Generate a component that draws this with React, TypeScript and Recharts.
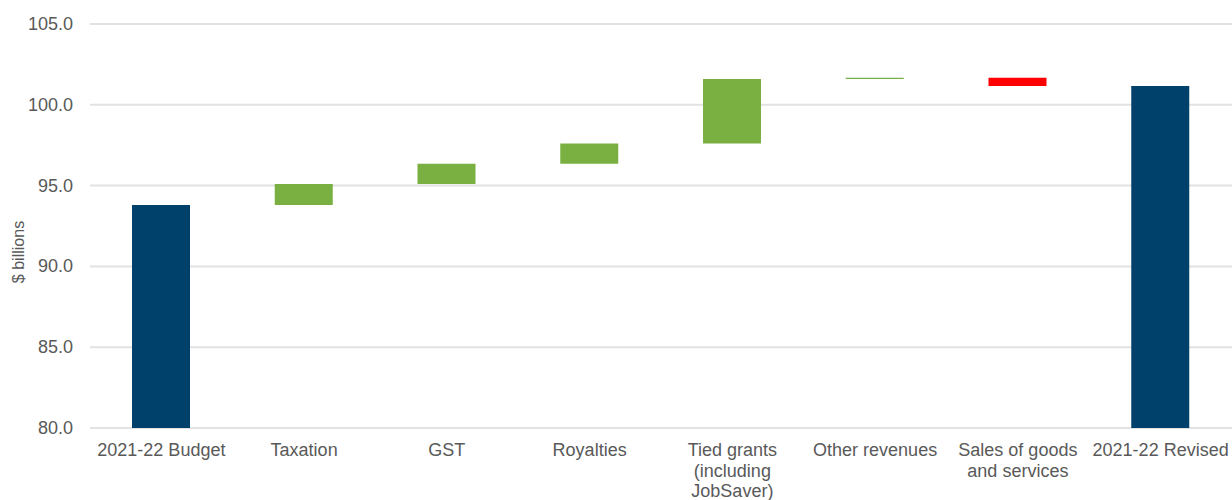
import { BarChart, Bar, Cell, XAxis, YAxis, CartesianGrid } from 'recharts';

const categories = [
  '2021-22 Budget',
  'Taxation',
  'GST',
  'Royalties',
  'Tied grants\n(including\nJobSaver)',
  'Other revenues',
  'Sales of goods\nand services',
  '2021-22 Revised',
];

// opening total, the six revisions, closing total ($ billions)
const budget = 93.8;
const changes = [1.3, 1.25, 1.25, 4.0, 0.07, -0.5];
const revised = 101.17;

const yTicks = [80, 85, 90, 95, 100, 105];

const NAVY = '#00416b';
const GREEN = '#7ab042';
const RED = '#ff0000';
const TEXT = '#595959';
const FONT = '"Liberation Sans", Arial, sans-serif';

const buildData = () => {
  const rows = [{ name: categories[0], range: [80, budget], color: NAVY }];
  let level = budget;
  changes.forEach((c, i) => {
    const next = level + c;
    rows.push({
      name: categories[i + 1],
      range: [Math.min(level, next), Math.max(level, next)],
      color: c >= 0 ? GREEN : RED,
    });
    level = next;
  });
  rows.push({ name: categories[7], range: [80, revised], color: NAVY });
  return rows;
};

const XTick = ({ x, payload }: any) => {
  const lines = String(payload.value).split('\n');
  // first baseline sits 28px under the 80.0 line (plot bottom = 428)
  return (
    <text x={x} y={456} textAnchor="middle" fill={TEXT} fontSize={18} fontFamily={FONT}>
      {lines.map((l, i) => (
        <tspan key={i} x={x} dy={i === 0 ? 0 : 20.5}>
          {l}
        </tspan>
      ))}
    </text>
  );
};

const YTick = ({ y, payload }: any) => (
  <text x={73} y={y} dy={6} textAnchor="end" fill={TEXT} fontSize={18} fontFamily={FONT}>
    {Number(payload.value).toFixed(1)}
  </text>
);

const YLabel = ({ viewBox }: any) => {
  const cx = 18;
  const cy = viewBox.y + viewBox.height / 2 + 26;
  return (
    <text
      x={cx}
      y={cy}
      transform={`rotate(-90, ${cx}, ${cy})`}
      textAnchor="middle"
      dominantBaseline="central"
      fill={TEXT}
      fontSize={16}
      fontFamily={FONT}
    >
      $ billions
    </text>
  );
};

const App = () => {
  const data = buildData();
  return (
    <div style={{ position: 'absolute', left: 0, top: 0, background: '#fff' }}>
      <BarChart
        width={1232}
        height={500}
        data={data}
        margin={{ top: 24, right: 0, left: 0, bottom: 0 }}
      >
        <CartesianGrid vertical={false} stroke="#e2e2e2" strokeWidth={2} />
        <XAxis
          dataKey="name"
          axisLine={false}
          tickLine={false}
          interval={0}
          height={72}
          tick={<XTick />}
        />
        <YAxis
          domain={[80, 105]}
          ticks={yTicks}
          axisLine={false}
          tickLine={false}
          width={90}
          tick={<YTick />}
          label={<YLabel />}
        />
        <Bar dataKey="range" barSize={58} isAnimationActive={false}>
          {data.map((d, i) => (
            <Cell key={`cell-${i}`} fill={d.color} />
          ))}
        </Bar>
      </BarChart>
    </div>
  );
};

export default App;
